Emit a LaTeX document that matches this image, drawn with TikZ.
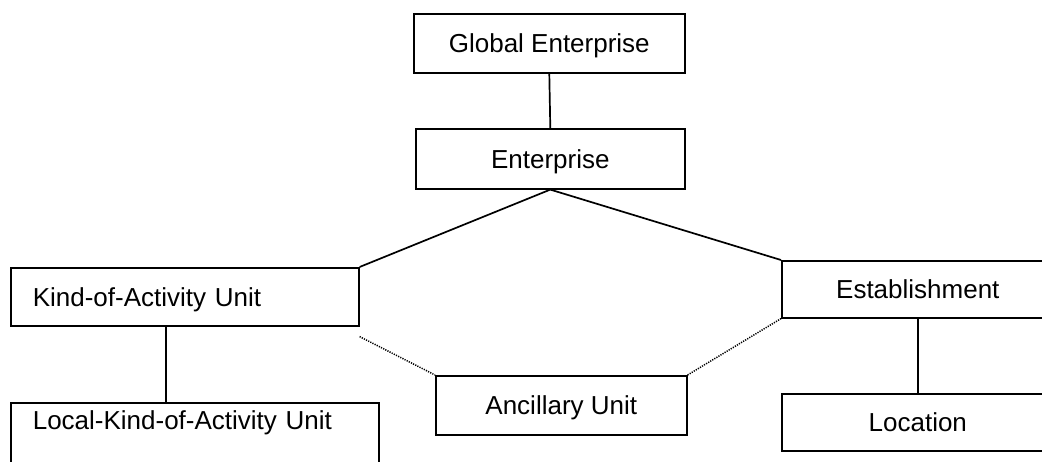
\documentclass[tikz,border=0pt]{standalone}
\usepackage{fontspec}
\setmainfont{Liberation Sans}
\begin{document}
\begin{tikzpicture}[x=1pt,y=-1pt,
  box/.style={draw, line width=1.6pt, rectangle, anchor=north west, inner ysep=0pt,
    font=\fontsize{26}{30}\selectfont, text height=18.6pt, text depth=0pt},
  link/.style={line width=1.7pt},
  dotlink/.style={line width=1.5pt, dash pattern=on 1.2pt off 1.2pt}]
\path[use as bounding box] (0,0) rectangle (1042,462);
\clip (0,0) rectangle (1042,462);
\node[box, minimum width=271pt, minimum height=59pt] (glob) at (413,13) {Global Enterprise};
\node[box, minimum width=269pt, minimum height=60pt] (ent) at (415,128) {Enterprise};
\node[box, minimum width=348pt, minimum height=58pt, inner xsep=22pt, text width=304pt, align=left] (kau) at (10,267) {Kind-of-Activity Unit};
\node[box, minimum width=368pt, inner xsep=22pt, text width=324pt, align=left, inner ysep=0pt, text height=27pt, text depth=70pt] (lkau) at (10,402) {Local-Kind-of-Activity Unit};
\node[box, minimum width=251pt, minimum height=59pt] (anc) at (435,375) {Ancillary Unit};
\node[box, minimum width=272pt, minimum height=57pt] (est) at (781,260) {Establishment};
\node[box, minimum width=272pt, minimum height=57pt] (loc) at (781,393) {Location};
\draw[link] (glob.south) -- (ent.north);
\draw[link] (kau.north east) -- (ent.south) -- (est.north west);
\draw[link] ([xshift=-19pt]kau.south) -- ([xshift=-19pt]kau.south |- lkau.north);
\draw[link] (est.south) -- (loc.north);
\draw[dotlink] ([yshift=-10pt]kau.south east) -- (anc.north west);
\draw[dotlink] (anc.north east) -- (est.south west);
\end{tikzpicture}
\end{document}
